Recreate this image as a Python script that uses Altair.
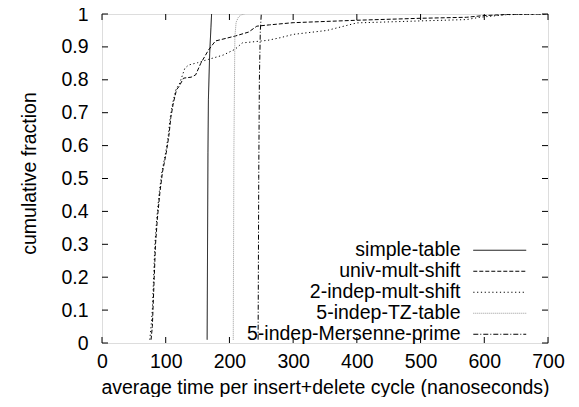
import altair as alt
import pandas as pd

FONT = "Liberation Sans"
FS = 19.5
W, H = 446, 329

series_names = ["simple-table", "univ-mult-shift", "2-indep-mult-shift",
                "5-indep-TZ-table", "5-indep-Mersenne-prime"]
series_colors = ["#000000", "#000000", "#000000", "#999999", "#000000"]
series_dashes = [[1, 0], [4, 2], [1.2, 2.6], [1, 1], [5, 2, 1, 2]]

simple_x = [165, 166.3, 167, 169, 171, 172]
simple_y = [0.01, 0.58, 0.74, 0.88, 0.96, 1.0]

univ_x = [77, 79, 80, 82, 84, 87, 91, 95, 101, 105, 108, 112, 117, 121, 128, 140,
          147, 155, 167, 178, 209, 230, 243, 263, 300, 400, 500, 572, 598, 640, 700]
univ_y = [0.01, 0.05, 0.1, 0.2, 0.3, 0.38, 0.46, 0.52, 0.58, 0.63, 0.685, 0.73, 0.77,
          0.78, 0.805, 0.808, 0.815, 0.85, 0.89, 0.918, 0.933, 0.945, 0.963, 0.967,
          0.9736, 0.981, 0.987, 0.99, 0.995, 0.999, 1.0]

indep2_x = [75, 77, 79, 81, 83, 86, 90, 94, 100, 104, 107, 111, 116, 122, 130, 136,
            150, 167, 190, 209, 220, 240, 260, 280, 300, 353, 400, 500, 572, 593, 635, 700]
indep2_y = [0.01, 0.05, 0.1, 0.2, 0.3, 0.38, 0.46, 0.52, 0.58, 0.63, 0.685, 0.73, 0.77,
            0.79, 0.835, 0.845, 0.852, 0.862, 0.875, 0.893, 0.912, 0.916, 0.92, 0.928,
            0.938, 0.95, 0.973, 0.979, 0.983, 0.99, 0.998, 1.0]

tz_x = [206, 207, 207.7, 208.5, 210.5, 214, 218, 224]
tz_y = [0.01, 0.58, 0.74, 0.93, 0.975, 0.99, 0.997, 1.0]

mers_x = [245, 246, 247, 248.5, 250]
mers_y = [0.01, 0.5, 0.8, 0.95, 1.0]

xticks = [0, 100, 200, 300, 400, 500, 600, 700]
yticks = [0, 0.1, 0.2, 0.3, 0.4, 0.5, 0.6, 0.7, 0.8, 0.9, 1.0]

XTITLE = "average time per insert+delete cycle (nanoseconds)"
YTITLE = "cumulative fraction"

rows = []
for name, xs, ys in zip(series_names,
                        [simple_x, univ_x, indep2_x, tz_x, mers_x],
                        [simple_y, univ_y, indep2_y, tz_y, mers_y]):
    for i, (xv, yv) in enumerate(zip(xs, ys)):
        rows.append({"series": name, "x": xv, "y": yv, "i": i})
df = pd.DataFrame(rows)

xscale = alt.Scale(domain=[0, 700], nice=False, zero=False)
yscale = alt.Scale(domain=[0, 1], nice=False, zero=False)

xaxis = alt.Axis(values=xticks, title=XTITLE, grid=False, domain=False, ticks=False,
                 tickSize=0, labelPadding=9, labelFontSize=FS, labelFont=FONT,
                 labelColor="black", titleFontSize=FS, titleFont=FONT,
                 titleFontWeight="normal", titleColor="black", labelOverlap=False,
                 titleY=50, titleBaseline="alphabetic", labelFlush=False)
yaxis = alt.Axis(values=yticks, format="~g", title=YTITLE, grid=False, domain=False,
                 ticks=False, tickSize=0, labelPadding=14, labelFontSize=FS,
                 labelFont=FONT, labelColor="black", titleFontSize=FS, titleFont=FONT,
                 titleFontWeight="normal", titleColor="black", titleAngle=-90,
                 titleX=-67, titleY=159, titleBaseline="alphabetic", titleAlign="center",
                 labelFlush=False, labelOverlap=False, tickCount=11)

legend = alt.Legend(title=None, orient="none", legendX=388, legendY=226.5,
                    symbolType="M-10,0H10", symbolSize=28, symbolStrokeWidth=1,
                    labelAlign="right", labelOffset={"expr": "-49"}, labelFontSize=FS,
                    labelFont=FONT, labelColor="black", labelLimit=400,
                    rowPadding=0, padding=0, symbolOffset=0)

lines = alt.Chart(df).mark_line(strokeWidth=1, clip=True).encode(
    x=alt.X("x:Q", scale=xscale, axis=xaxis),
    y=alt.Y("y:Q", scale=yscale, axis=yaxis),
    color=alt.Color("series:N", scale=alt.Scale(domain=series_names, range=series_colors),
                    legend=legend),
    strokeDash=alt.StrokeDash("series:N",
                              scale=alt.Scale(domain=series_names, range=series_dashes),
                              legend=legend),
    order=alt.Order("i:Q"),
)

xt = alt.Chart(pd.DataFrame({"x": xticks})).mark_rule(color="black", strokeWidth=1)
yt = alt.Chart(pd.DataFrame({"y": yticks})).mark_rule(color="black", strokeWidth=1)

xt_bottom = xt.encode(x=alt.X("x:Q", scale=xscale, axis=xaxis),
                      y=alt.value(H), y2=alt.value(H - 6))
xt_top = xt.encode(x=alt.X("x:Q", scale=xscale, axis=xaxis),
                   y=alt.value(0), y2=alt.value(6))
yt_left = yt.encode(y=alt.Y("y:Q", scale=yscale, axis=yaxis),
                    x=alt.value(0), x2=alt.value(6))
yt_right = yt.encode(y=alt.Y("y:Q", scale=yscale, axis=yaxis),
                     x=alt.value(W - 6), x2=alt.value(W))

chart = alt.layer(lines, xt_bottom, xt_top, yt_left, yt_right).properties(
    width=W, height=H,
    autosize=alt.AutoSizeParams(type="none"),
    padding={"left": 94, "top": 6, "right": 22, "bottom": 54},
).configure_view(stroke="black", strokeWidth=1).configure(
    background="white"
).configure_axis(labelOverlap=False, labelBound=False)

chart.save("out.html", embed_options={"renderer": "svg", "actions": False})
